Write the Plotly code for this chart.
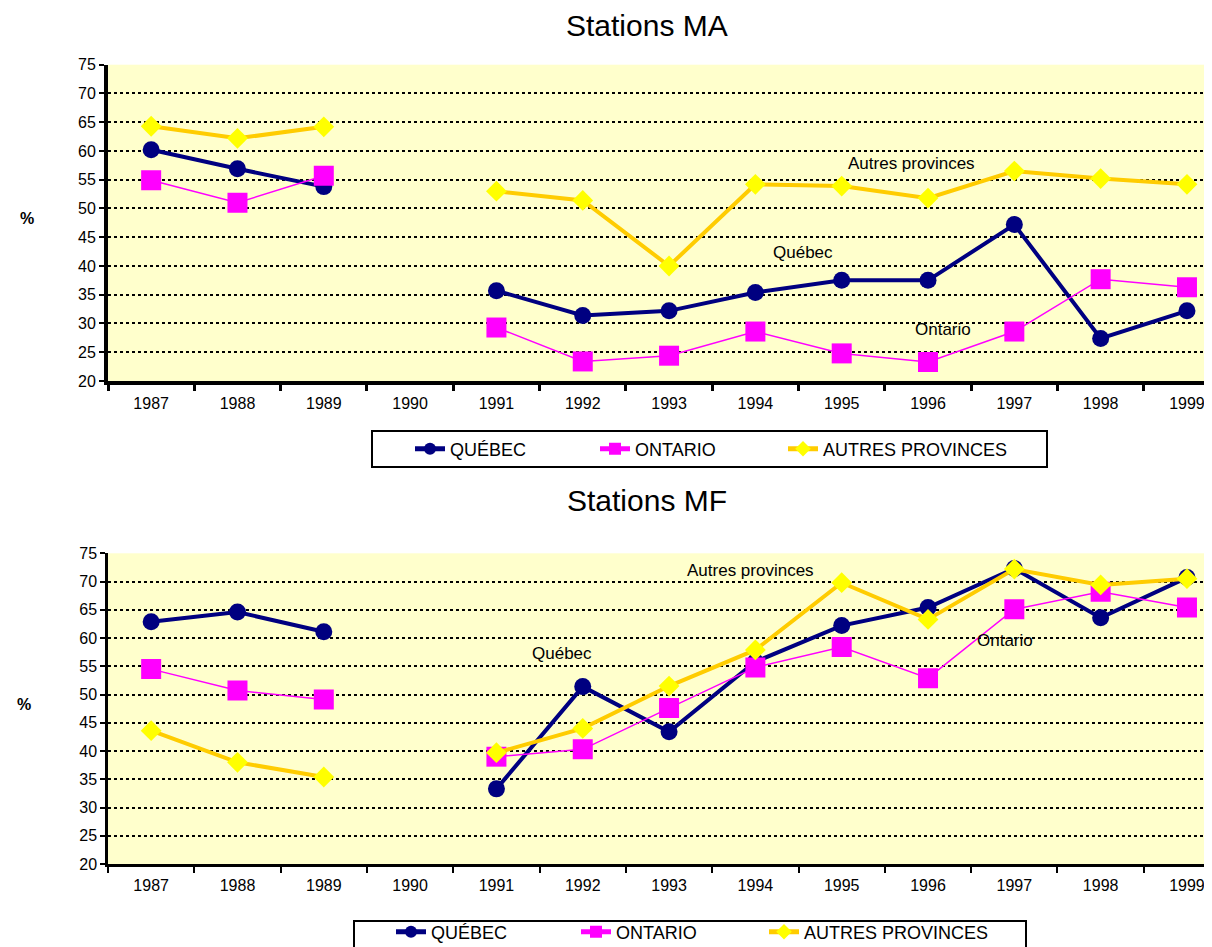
import plotly.graph_objects as go

years = ['1987', '1988', '1989', '1990', '1991', '1992', '1993',
         '1994', '1995', '1996', '1997', '1998', '1999']
series_names = ['QUÉBEC', 'ONTARIO', 'AUTRES PROVINCES']

ma_quebec = [60.2, 56.9, 53.8, None, 35.7, 31.4, 32.2, 35.4, 37.5, 37.5, 47.2, 27.4, 32.2]
ma_ontario = [54.9, 51.0, 55.7, None, 29.3, 23.4, 24.4, 28.6, 24.8, 23.3, 28.6, 37.7, 36.3]
ma_autres = [64.3, 62.2, 64.2, None, 53.0, 51.4, 40.0, 54.2, 53.9, 51.8, 56.5, 55.2, 54.2]

mf_quebec = [62.9, 64.6, 61.1, None, 33.3, 51.4, 43.4, 55.8, 62.2, 65.4, 72.3, 63.6, 70.7]
mf_ontario = [54.5, 50.7, 49.1, None, 39.0, 40.3, 47.6, 54.8, 58.4, 52.9, 65.1, 68.2, 65.4]
mf_autres = [43.6, 38.0, 35.4, None, 39.7, 44.0, 51.5, 57.9, 69.8, 63.3, 72.2, 69.4, 70.5]

# page body margin is 8px: the figure is drawn at (8, 8) in the window
OFF = 8
W, H = 1212 - OFF, 947 - OFF
FONT = 'Liberation Sans, Arial, sans-serif'


def py(p):
    return 1 - (p - OFF) / H


def px(p):
    return (p - OFF) / W


styles = [
    dict(line=dict(color='#000080', width=4), marker=dict(symbol='circle', size=17, color='#000080')),
    dict(line=dict(color='#FF00FF', width=1.5), marker=dict(symbol='square', size=20, color='#FF00FF')),
    dict(line=dict(color='#FFCC00', width=4), marker=dict(symbol='diamond', size=16, color='#FFFF00')),
]

# legend text start (window px) for each entry, top and bottom charts
top_text_x = [450, 635, 823]
bot_text_x = [431, 616, 804]
top_leg_y = 449
bot_leg_y = 932

fig = go.Figure()
legend_layout = {}
k = 1
for name, vals, st, tx in zip(series_names, [ma_quebec, ma_ontario, ma_autres], styles, top_text_x):
    lname = 'legend' if k == 1 else 'legend%d' % k
    fig.add_trace(go.Scatter(x=years, y=vals, name=name, mode='lines+markers',
                             connectgaps=False, xaxis='x', yaxis='y', legend=lname,
                             showlegend=True, **st))
    legend_layout[lname] = dict(x=px(tx - 40), y=py(top_leg_y))
    k += 1
for name, vals, st, tx in zip(series_names, [mf_quebec, mf_ontario, mf_autres], styles, bot_text_x):
    lname = 'legend%d' % k
    fig.add_trace(go.Scatter(x=years, y=vals, name=name, mode='lines+markers',
                             connectgaps=False, xaxis='x2', yaxis='y2', legend=lname,
                             showlegend=True, **st))
    legend_layout[lname] = dict(x=px(tx - 40), y=py(bot_leg_y))
    k += 1

for lname, pos in legend_layout.items():
    fig.update_layout({lname: dict(orientation='h', x=pos['x'], y=pos['y'],
                                   xanchor='left', yanchor='middle', visible=True,
                                   bgcolor='rgba(0,0,0,0)', borderwidth=0,
                                   itemsizing='constant',
                                   font=dict(family=FONT, size=18, color='black'))})

xcommon = dict(type='category', range=[-0.5, 12.29], showline=True, linecolor='black',
               ticks='outside', tickson='boundaries', ticklen=6, tickcolor='black',
               showgrid=False, tickfont=dict(family=FONT, size=16, color='black'),
               ticklabelstandoff=5,
               domain=[px(108), px(1212)], fixedrange=True, automargin=False)
ycommon = dict(range=[20, 75], dtick=5, tick0=20, showline=True, linecolor='black',
               ticks='outside', ticklen=5, tickcolor='black', tickwidth=2,
               showgrid=True, gridcolor='black', griddash='dot', gridwidth=2,
               zeroline=False, tickfont=dict(family=FONT, size=16, color='black'),
               fixedrange=True, automargin=False)

fig.update_layout(
    width=W, height=H,
    showlegend=True,
    margin=dict(l=0, r=0, t=0, b=0, autoexpand=False),
    paper_bgcolor='white', plot_bgcolor='#FFFFCC',
    font=dict(family=FONT, color='black'),
    xaxis=dict(xcommon, anchor='y', linewidth=4, tickwidth=3),
    yaxis=dict(ycommon, anchor='x', domain=[py(381), py(64.7)], linewidth=4),
    xaxis2=dict(xcommon, anchor='y2', linewidth=3, tickwidth=2),
    yaxis2=dict(ycommon, anchor='x2', domain=[py(864), py(553.3)], linewidth=2.5),
    shapes=[
        dict(type='rect', xref='paper', yref='paper', x0=px(372), x1=px(1047),
             y0=py(467), y1=py(431), line=dict(color='black', width=2), fillcolor='rgba(0,0,0,0)'),
        dict(type='rect', xref='paper', yref='paper', x0=px(354), x1=px(1026),
             y0=py(957), y1=py(921), line=dict(color='black', width=2), fillcolor='rgba(0,0,0,0)'),
    ],
)

annots = [
    dict(text='Stations MA', xref='paper', yref='paper', x=px(647), y=1.0, size=30, ya='top'),
    dict(text='Stations MF', xref='paper', yref='paper', x=px(647), y=py(500), size=30, ya='middle'),
    dict(text='<b>%</b>', xref='paper', yref='paper', x=px(27), y=py(218), size=16, ya='middle'),
    dict(text='<b>%</b>', xref='paper', yref='paper', x=px(24), y=py(704), size=16, ya='middle'),
    dict(text='Autres provinces', xref='x', yref='y', x=8.805, y=57.9, size=17, ya='middle'),
    dict(text='Québec', xref='x', yref='y', x=7.554, y=42.4, size=17, ya='middle'),
    dict(text='Ontario', xref='x', yref='y', x=9.175, y=29.0, size=17, ya='middle'),
    dict(text='Autres provinces', xref='x2', yref='y2', x=6.939, y=72.0, size=17, ya='middle'),
    dict(text='Québec', xref='x2', yref='y2', x=4.761, y=57.2, size=17, ya='middle'),
    dict(text='Ontario', xref='x2', yref='y2', x=9.894, y=59.6, size=17, ya='middle'),
]
for a in annots:
    fig.add_annotation(text=a['text'], xref=a['xref'], yref=a['yref'], x=a['x'], y=a['y'],
                       showarrow=False, xanchor='center', yanchor=a['ya'], borderpad=0,
                       font=dict(family=FONT, size=a['size'], color='black'))

fig.write_html('out.html')
